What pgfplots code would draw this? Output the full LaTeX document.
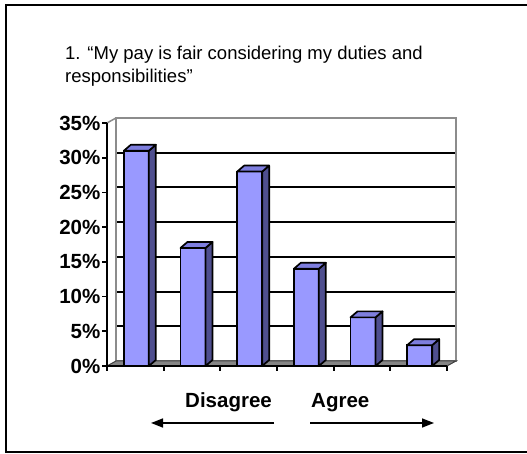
\documentclass[border=0pt]{standalone}
\usepackage{pgfplots}
\pgfplotsset{compat=1.18}
\usepackage{pgfplotstable}
\usepackage{fontspec}
\setmainfont{Liberation Sans}
\usetikzlibrary{arrows.meta}
\definecolor{barfront}{HTML}{9999FF}
\definecolor{barside}{HTML}{4F4F8F}
\definecolor{bartop}{HTML}{7E7EDE}
\definecolor{floorgray}{HTML}{858585}
\definecolor{wallgray}{HTML}{8C8C8C}

\pgfplotstableread{
x v
1 31
2 17
3 28
4 14
5 7
6 3
}\paytable

\begin{document}
\begin{tikzpicture}[x=1bp,y=1bp]
% outer frame (right edge lies beyond the picture)
\draw[line width=1.6bp] (535,449) -- (6,449) -- (6,2) -- (535,2);
% title
\node[anchor=base west, inner sep=0, font=\fontsize{18.5bp}{22bp}\selectfont] at (65,394) {1. “My pay is fair considering my duties and};
\node[anchor=base west, inner sep=0, font=\fontsize{18.5bp}{22bp}\selectfont] at (65,371) {responsibilities”};

% back wall with gridlines
\begin{axis}[at={(116bp,93bp)}, anchor=south west, scale only axis,
  width=340bp, height=243bp,
  xmin=0.5, xmax=6.5, ymin=0, ymax=35,
  xtick=\empty, ytick={5,10,...,30}, yticklabels={},
  major tick length=0pt, ymajorgrids,
  grid style={black, line width=2bp},
  axis line style={wallgray, line width=1.5bp}]
\end{axis}

% floor and left wall edge
\filldraw[fill=floorgray, draw=black!75, line width=1bp] (107,88) -- (116,93) -- (456,93) -- (447,88) -- cycle;
\draw[wallgray, line width=1.5bp] (107,331) -- (116,336);

% front axis with bars
\begin{axis}[at={(107bp,88bp)}, anchor=south west, scale only axis,
  width=340bp, height=243bp,
  xmin=0.5, xmax=6.5, ymin=0, ymax=35, clip=false,
  axis x line*=bottom, axis y line*=left,
  axis line style={black, line width=1.8bp},
  xtick={0.5,1.5,...,6.5}, xticklabels={},
  ytick={0,5,...,35},
  yticklabels={0\%,5\%,10\%,15\%,20\%,25\%,30\%,35\%},
  tick align=outside, major tick length=5bp,
  tick style={black, line width=1.8bp},
  yticklabel style={font=\fontsize{20.5bp}{24bp}\selectfont\bfseries, inner sep=1.5bp},
]
\addplot[ybar, bar width=25bp, bar shift=1bp, fill=barfront, draw=black, line width=1.7bp]
  table[x=x, y=v] {\paytable};
\addplot[scatter, only marks, mark=*, mark size=0pt,
  visualization depends on={\thisrow{v} \as \val},
  scatter/@pre marker code/.code={%
    \filldraw[fill=barside, draw=black, line width=1.7bp, line join=round]
      (13.5bp,0bp) -- ++(7bp,6bp) -- ++(axis direction cs:0,-\val) -- ++(-7bp,-6bp) -- cycle;
    \filldraw[fill=bartop, draw=black, line width=1.7bp, line join=round]
      (-11.5bp,0bp) -- (13.5bp,0bp) -- (20.5bp,6bp) -- (-4.5bp,6bp) -- cycle;
    \scope[opacity=0]%
  },
  scatter/@post marker code/.code={\endscope},
] table[x=x, y=v] {\paytable};
\end{axis}

% axis captions and arrows
\node[anchor=base west, inner sep=0, font=\fontsize{20.5bp}{24bp}\selectfont\bfseries] at (185,46) {Disagree};
\node[anchor=base west, inner sep=0, font=\fontsize{20.5bp}{24bp}\selectfont\bfseries] at (311,46) {Agree};
\draw[line width=1.6bp, -{Triangle[length=12bp, width=9bp]}] (274,31) -- (151,31);
\draw[line width=1.6bp, -{Triangle[length=12bp, width=9bp]}] (310,31) -- (434,31);

\pgfresetboundingbox
\useasboundingbox (0,0) rectangle (527,454);
\end{tikzpicture}
\end{document}
